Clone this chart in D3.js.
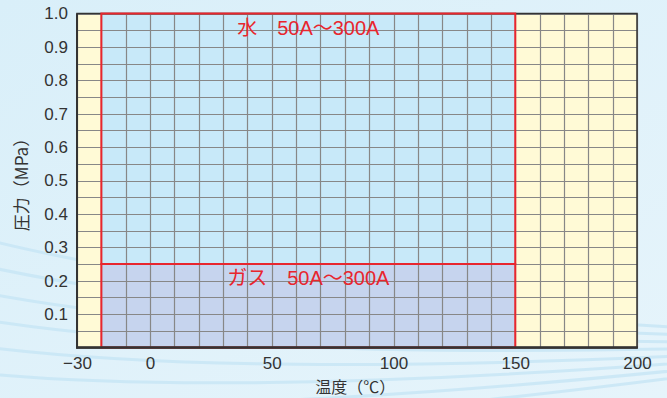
<!DOCTYPE html>
<html><head><meta charset="utf-8">
<script src="https://cdn.jsdelivr.net/npm/d3@7"></script>
<style>html,body{margin:0;padding:0;background:#e0f2fb;}svg{display:block;}</style>
</head><body><div id="chart"></div>
<script>
// ---- data ----
const xTicks = [-30, 0, 50, 100, 150, 200];
const yTicks = [0.1, 0.2, 0.3, 0.4, 0.5, 0.6, 0.7, 0.8, 0.9, 1.0];
const regionNames = ["水", "ガス"];
const regionSizes = ["50A～300A", "50A～300A"];
const regionTempMin = [-20, -20];
const regionTempMax = [150, 150];
const regionPressMin = [0.25, 0];
const regionPressMax = [1.0, 0.25];
const regionFills = ["#c8e9f9", "#c6d4ee"];
const xDomain = [-30, 200];
const yDomain = [0, 1.0];
const xGridStep = 10;
const yGridStep = 0.05;
const xTitle = "温度（℃）";
const yTitle = "圧力（MPa）";

const W = 667, H = 398;
const margin = {left: 77, right: 30, top: 13.5, bottom: 50.5};
const numFont = "'Liberation Sans', 'Noto Sans CJK JP', sans-serif";
const cjkFont = "'Noto Sans CJK JP', 'Liberation Sans', sans-serif";

const svg = d3.select("#chart").append("svg").attr("width", W).attr("height", H);

// background
const defs = svg.append("defs");
const grad = defs.append("linearGradient").attr("id", "bg").attr("x1", 0).attr("y1", 0).attr("x2", 1).attr("y2", 1);
grad.append("stop").attr("offset", "0%").attr("stop-color", "#d9eff9");
grad.append("stop").attr("offset", "100%").attr("stop-color", "#e6f4fb");
svg.append("rect").attr("width", W).attr("height", H).attr("fill", "url(#bg)");
const streaks = svg.append("g").attr("fill", "none").attr("stroke", "#c7e6f6").attr("stroke-width", 3).attr("opacity", 0.8);
for (let i = 0; i < 8; i++) {
  streaks.append("path").attr("d", `M${-50} ${230 + i * 28} Q ${200} ${300 + i * 20} ${720} ${330 + i * 6}`);
}

const x = d3.scaleLinear().domain(xDomain).range([margin.left, W - margin.right]);
const y = d3.scaleLinear().domain(yDomain).range([H - margin.bottom, margin.top]);

const plot = svg.append("g");
// outer plot (yellow)
plot.append("rect")
  .attr("x", x(xDomain[0])).attr("y", y(yDomain[1]))
  .attr("width", x(xDomain[1]) - x(xDomain[0])).attr("height", y(yDomain[0]) - y(yDomain[1]))
  .attr("fill", "#fffad6");

// regions
const regions = regionNames.map((n, i) => ({
  name: n, size: regionSizes[i], x0: regionTempMin[i], x1: regionTempMax[i],
  y0: regionPressMin[i], y1: regionPressMax[i], fill: regionFills[i]
}));
plot.selectAll("rect.region").data(regions).join("rect").attr("class", "region")
  .attr("x", d => x(d.x0)).attr("y", d => y(d.y1))
  .attr("width", d => x(d.x1) - x(d.x0)).attr("height", d => y(d.y0) - y(d.y1))
  .attr("fill", d => d.fill);

// grid
const xGrid = d3.range(xDomain[0], xDomain[1] + 0.001, xGridStep);
const yGrid = d3.range(0, 20 + 1).map(k => +(k * yGridStep).toFixed(2));
plot.append("g").selectAll("line").data(xGrid).join("line")
  .attr("x1", d => Math.round(x(d)) + 0.5).attr("x2", d => Math.round(x(d)) + 0.5)
  .attr("y1", y(yDomain[1])).attr("y2", y(yDomain[0]))
  .attr("stroke", "#878787").attr("stroke-width", 1.2);
plot.append("g").selectAll("line").data(yGrid).join("line")
  .attr("y1", d => Math.round(y(d)) + 0.5).attr("y2", d => Math.round(y(d)) + 0.5)
  .attr("x1", x(xDomain[0])).attr("x2", x(xDomain[1]))
  .attr("stroke", "#878787").attr("stroke-width", 1.2);

// frame
plot.append("rect")
  .attr("x", x(xDomain[0])).attr("y", y(yDomain[1]))
  .attr("width", x(xDomain[1]) - x(xDomain[0])).attr("height", y(yDomain[0]) - y(yDomain[1]))
  .attr("fill", "none").attr("stroke", "#333").attr("stroke-width", 1.5);

// red region borders
plot.selectAll("rect.rb").data(regions).join("rect").attr("class", "rb")
  .attr("x", d => x(d.x0)).attr("y", d => y(d.y1))
  .attr("width", d => x(d.x1) - x(d.x0)).attr("height", d => y(d.y0) - y(d.y1))
  .attr("fill", "none").attr("stroke", "#e8262e").attr("stroke-width", 2);

// axis lines (left and bottom, heavier)
plot.append("line").attr("x1", x(xDomain[0])).attr("x2", x(xDomain[0]))
  .attr("y1", y(yDomain[1])).attr("y2", y(yDomain[0]) + 1).attr("stroke", "#333").attr("stroke-width", 2);
plot.append("line").attr("x1", x(xDomain[0]) - 1).attr("x2", x(xDomain[1]) + 1)
  .attr("y1", y(yDomain[0])).attr("y2", y(yDomain[0])).attr("stroke", "#333").attr("stroke-width", 2.5);

// region labels
plot.selectAll("text.rl").data(regions).join("text").attr("class", "rl")
  .attr("x", d => x((d.x0 + d.x1) / 2)).attr("y", d => y(d.y1) + 21)
  .attr("text-anchor", "middle").attr("fill", "#e8262e")
  .style("font-family", numFont).style("font-size", "20px")
  .text(d => d.name + "　" + d.size);

// axes
const fmtX = d => d < 0 ? "\u2212" + Math.abs(d) : String(d);
const xAxis = d3.axisBottom(x).tickValues(xTicks).tickFormat(fmtX).tickSize(0).tickPadding(9);
const gx = svg.append("g").attr("transform", `translate(0,${y(0)})`).call(xAxis);
gx.select(".domain").remove();
gx.selectAll("text").style("font-family", numFont).style("font-size", "17px").attr("fill", "#333");

const yAxis = d3.axisLeft(y).tickValues(yTicks).tickFormat(d3.format(".1f")).tickSize(0).tickPadding(9);
const gy = svg.append("g").attr("transform", `translate(${x(xDomain[0])},0)`).call(yAxis);
gy.select(".domain").remove();
gy.selectAll("text").style("font-family", numFont).style("font-size", "17px").attr("fill", "#333");

// titles
svg.append("text").attr("x", x(xDomain[0]) + (x(xDomain[1]) - x(xDomain[0])) * 0.497).attr("y", 393)
  .attr("text-anchor", "middle").attr("fill", "#333")
  .style("font-family", cjkFont).style("font-size", "16px").text(xTitle);
svg.append("text").attr("transform", `translate(28,${(y(0) + y(1)) / 2}) rotate(-90)`)
  .attr("text-anchor", "middle").attr("fill", "#333")
  .style("font-family", cjkFont).style("font-size", "17px").text(yTitle);
</script></body></html>
